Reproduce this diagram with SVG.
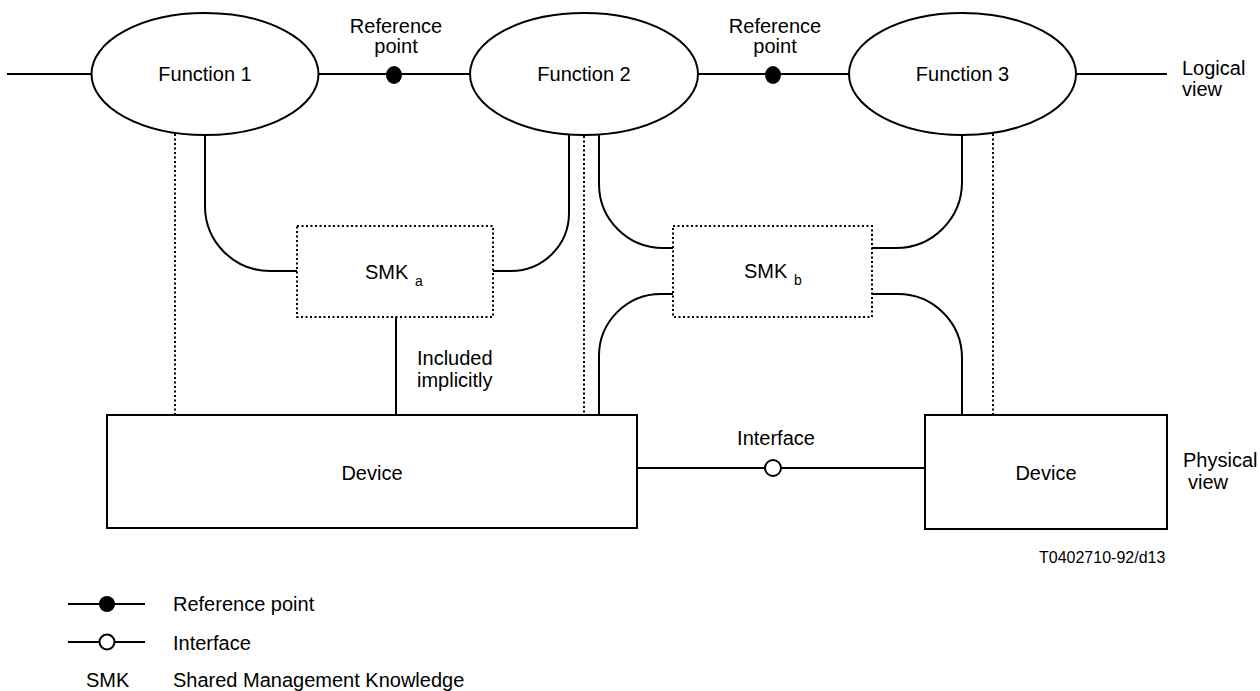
<svg xmlns="http://www.w3.org/2000/svg" width="1260" height="691" viewBox="0 0 1260 691">
<style>
text{font-family:"Liberation Sans",Arial,sans-serif;font-size:20px;fill:#000}
.mid{text-anchor:middle}
.sub{font-size:14px}
.ln{fill:none;stroke:#000;stroke-width:2}
.dot{fill:none;stroke:#000;stroke-width:2;stroke-dasharray:2 2.5}
.node{fill:#fff;stroke:#000;stroke-width:2}
.smk{fill:#fff;stroke:#000;stroke-width:2;stroke-dasharray:2 2.5}
.rp{fill:#000;stroke:none}
.if{fill:#fff;stroke:#000;stroke-width:2}
</style>
<rect width="1260" height="691" fill="#fff"/>
<g id="connectors">
<path class="ln" d="M7,74 H91 M318,74 H470 M698,74 H849 M1076,74 H1167"/>
<path class="dot" d="M175,134 V415 M584,136 V415 M993,134 V415"/>
<path class="ln" d="M205,134 V206 A65,65 0 0 0 270,271 H297"/>
<path class="ln" d="M569,134 V213 A58,58 0 0 1 511,271 H493"/>
<path class="ln" d="M396,317 V415"/>
<path class="ln" d="M599,134 V184 A64,64 0 0 0 663,248 H673"/>
<path class="ln" d="M962,134 V182 A66,66 0 0 1 896,248 H872"/>
<path class="ln" d="M599,415 V356 A62,62 0 0 1 661,294 H673"/>
<path class="ln" d="M962,415 V358 A64,64 0 0 0 898,294 H872"/>
<path class="ln" d="M637,468 H925"/>
<ellipse class="rp" cx="394" cy="75" rx="8" ry="9"/>
<ellipse class="rp" cx="773" cy="75" rx="8" ry="9"/>
<circle class="if" cx="773" cy="468" r="8"/>
</g>
<g id="f1"><ellipse class="node" cx="205" cy="74" rx="113.5" ry="61"/><text class="mid" x="205" y="81">Function 1</text></g>
<g id="f2"><ellipse class="node" cx="584" cy="74" rx="114" ry="61"/><text class="mid" x="584" y="81">Function 2</text></g>
<g id="f3"><ellipse class="node" cx="962.5" cy="74" rx="113.5" ry="61"/><text class="mid" x="962.5" y="81">Function 3</text></g>
<g id="rp1-label"><text class="mid" x="396" y="33">Reference</text><text class="mid" x="396" y="53">point</text></g>
<g id="rp2-label"><text class="mid" x="775" y="33">Reference</text><text class="mid" x="775" y="53">point</text></g>
<g id="logical"><text x="1182" y="75">Logical</text><text x="1182" y="96">view</text></g>
<g id="smka"><rect class="smk" x="297" y="226" width="196" height="91"/><text x="365" y="279">SMK</text><text class="sub" x="415" y="286">a</text></g>
<g id="smkb"><rect class="smk" x="673" y="226" width="199" height="91"/><text x="744" y="278">SMK</text><text class="sub" x="794" y="285">b</text></g>
<g id="implicit"><text x="417" y="365">Included</text><text x="417" y="387">implicitly</text></g>
<g id="dev1"><rect class="node" x="107" y="415" width="530" height="113"/><text class="mid" x="372" y="480">Device</text></g>
<g id="dev2"><rect class="node" x="925" y="415" width="242" height="114"/><text class="mid" x="1046" y="480">Device</text></g>
<g id="if-label"><text class="mid" x="776" y="445">Interface</text></g>
<g id="physical"><text x="1183" y="467">Physical</text><text x="1188" y="489">view</text></g>
<g id="code"><text x="1039" y="563" style="font-size:16px">T0402710-92/d13</text></g>
<g id="legend">
<path class="ln" d="M68,604 H145 M68,642 H145"/>
<circle class="rp" cx="107" cy="604" r="8"/>
<circle class="if" cx="107" cy="642" r="7.5"/>
<text x="173" y="611">Reference point</text>
<text x="173" y="650">Interface</text>
<text x="86" y="687">SMK</text>
<text x="173" y="687">Shared Management Knowledge</text>
</g>
</svg>
